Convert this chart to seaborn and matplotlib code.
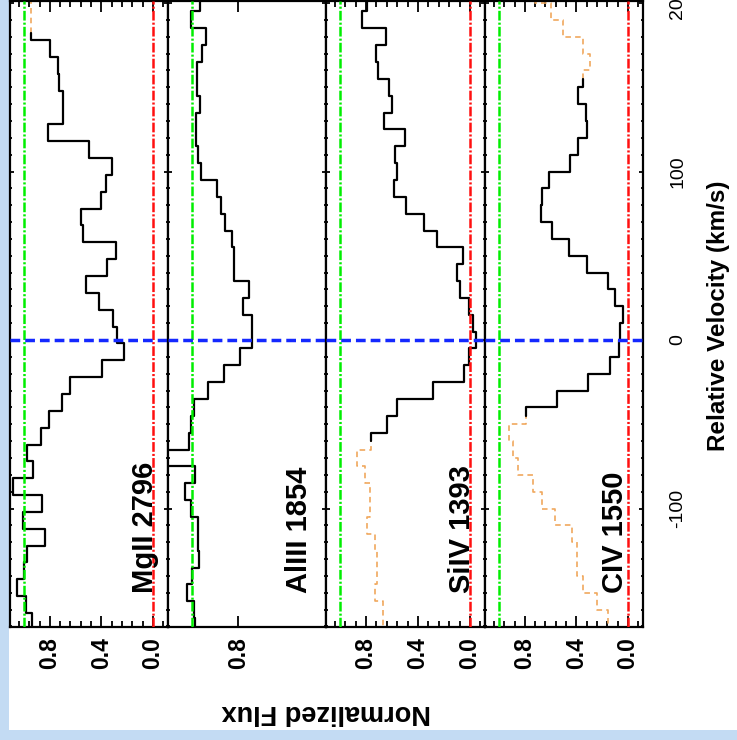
import numpy as np
import matplotlib
matplotlib.use("Agg")
import matplotlib.pyplot as plt
import matplotlib.transforms as mtransforms
from matplotlib.patches import Rectangle
from matplotlib.ticker import MultipleLocator, FixedLocator, NullLocator
import seaborn as sns

sns.set_theme(style="ticks")
plt.rcParams["font.family"] = ["Liberation Sans", "DejaVu Sans"]
plt.rcParams["axes.unicode_minus"] = False
plt.rcParams["lines.scale_dashes"] = False
plt.rcParams["text.color"] = "black"
plt.rcParams["xtick.color"] = "black"
plt.rcParams["ytick.color"] = "black"
plt.rcParams["axes.edgecolor"] = "black"

# ---------------- data (bin centres in km/s, normalized flux) ----------------
mg_vel = [-167, -157, -147, -137, -127, -117, -107, -97, -87, -77, -67, -57, -47,
          -37, -27, -17, -7, 3, 13, 23, 33, 43, 53, 63, 73, 83, 93, 103, 113, 123,
          133, 143, 153, 163, 173, 183, 193, 203]
mg_flux = [0.94, 0.984, 1.052, 1.0, 0.98, 0.837, 1.005, 0.863, 1.083, 0.928, 0.974,
           0.87, 0.81, 0.708, 0.643, 0.398, 0.225, 0.277, 0.307, 0.419, 0.519, 0.354,
           0.287, 0.545, 0.56, 0.40, 0.364, 0.315, 0.493, 0.816, 0.695, 0.695, 0.726,
           0.734, 0.798, 0.95, 0.95, 0.95]

al_vel = [-170, -160, -150, -140, -130, -120, -110, -100, -90, -80, -70, -60, -50,
          -40, -30, -20, -10, 0, 10, 20, 30, 40, 50, 60, 70, 80, 90, 100, 110, 120,
          130, 140, 150, 160, 170, 180, 190, 200]
al_flux = [0.987, 0.994, 1.023, 1.001, 0.97, 0.973, 0.973, 1.006, 1.03, 0.987, 1.25,
           1.012, 1.006, 0.994, 0.929, 0.861, 0.791, 0.74, 0.74, 0.78, 0.752, 0.82,
           0.82, 0.828, 0.857, 0.875, 0.89, 0.961, 0.973, 0.983, 0.983, 0.965, 0.98,
           0.98, 0.958, 0.939, 1.006, 0.965]

si_vel = [-170, -160, -150, -140, -130, -120, -110, -100, -90, -80, -70, -60, -50,
          -40, -30, -20, -10, 0, 10, 20, 30, 40, 50, 60, 70, 80, 90, 100, 110, 120,
          130, 140, 150, 160, 170, 180, 190, 200]
si_flux = [0.667, 0.667, 0.731, 0.718, 0.718, 0.731, 0.795, 0.769, 0.769, 0.808, 0.867,
           0.762, 0.641, 0.564, 0.282, 0.046, 0.008, -0.044, -0.026, 0.005, 0.077,
           0.10, 0.051, 0.251, 0.351, 0.492, 0.585, 0.564, 0.577, 0.50, 0.659, 0.603,
           0.623, 0.705, 0.723, 0.649, 0.833, 0.795]

c4_vel = [-175, -165, -155, -145, -135, -125, -115, -105, -95, -85, -75, -65, -55,
          -45, -35, -25, -15, -5, 5, 15, 25, 35, 45, 55, 65, 75, 85, 95, 105, 115,
          125, 135, 145, 155, 165, 175, 185, 195, 205]
c4_flux = [0.152, 0.152, 0.243, 0.346, 0.398, 0.398, 0.437, 0.566, 0.669, 0.734, 0.85,
           0.889, 0.92, 0.793, 0.553, 0.307, 0.14, 0.067, 0.06, 0.041, 0.10, 0.152,
           0.315, 0.455, 0.592, 0.674, 0.669, 0.612, 0.45, 0.385, 0.315, 0.326, 0.385,
           0.35, 0.295, 0.346, 0.501, 0.597, 0.72]

names = ["MgII 2796", "AlIII 1854", "SiIV 1393", "CIV 1550"]
black_ranges = [(-175, 182), (-180, 210), (-60, 210), (-45, 155)]
flux_ticks = [[0.0, 0.4, 0.8], [0.8], [0.0, 0.4, 0.8], [0.0, 0.4, 0.8]]
vel_ticks_major = 100
BIN_HALF = 5.0

# ---------------- layout / style ----------------
W, H = 737, 740
fig = plt.figure(figsize=(W / 100, H / 100), dpi=100, facecolor="#c3dbf3")
fig.patches.append(Rectangle((8.5 / W, 10 / H), 1, 1, transform=fig.transFigure,
                             facecolor="white", edgecolor="none", zorder=-10))

lefts = [10, 168, 326, 485]
rights = [168, 326, 485, 643]
top_px, bot_px = 1, 627
xlims = [(1.109, -0.116), (1.105, 0.418), (1.109, -0.116), (1.109, -0.116)]
ylim = (-170.3, 201.2)
label_x = [0.905, 0.878, 0.906, 0.873]


def step_path(vel, flux, lo, hi):
    xs, ys = [], []
    for c, f in zip(vel, flux):
        a = max(c - BIN_HALF, lo)
        b = min(c + BIN_HALF, hi)
        if b <= a:
            continue
        ys += [a, b]
        xs += [f, f]
    return xs, ys


series = [(mg_vel, mg_flux), (al_vel, al_flux), (si_vel, si_flux), (c4_vel, c4_flux)]

for i, ((vel, flux), name) in enumerate(zip(series, names)):
    l, r = lefts[i], rights[i]
    ax = fig.add_axes([l / W, 1 - bot_px / H, (r - l) / W, (bot_px - top_px) / H])
    ax.set_zorder(1)
    ax.set_facecolor("white")

    lo, hi = black_ranges[i]
    vmin = min(vel) - BIN_HALF
    vmax = max(vel) + BIN_HALF
    # orange dashed parts outside the fitted range
    for a, b in [(vmin, lo), (hi, vmax)]:
        if b > a:
            xs, ys = step_path(vel, flux, a, b)
            if xs:
                ax.plot(xs, ys, color="#f0a85e", lw=1.2, ls=(0, (4, 3)), zorder=2)
    xs, ys = step_path(vel, flux, lo, hi)
    sns.lineplot(x=xs, y=ys, sort=False, estimator=None, color="black", lw=1.6,
                 ax=ax, zorder=2.5)

    # reference lines
    ax.axvline(1.0, color="#00ee00", lw=1.8, ls=(0, (7, 1.5, 1.5, 1.5)), zorder=3)
    if xlims[i][1] < 0:
        ax.axvline(0.0, color="#ff1010", lw=1.8, ls=(0, (7, 1.5, 1.5, 1.5)), zorder=3)
    ax.axhline(0.0, color="#1428ff", lw=2.5, ls=(0, (7, 3.6)), zorder=3.5)

    ax.set_xlim(*xlims[i])
    ax.set_ylim(*ylim)
    ax.set_xlabel("")
    ax.set_ylabel("")

    ax.xaxis.set_major_locator(FixedLocator(flux_ticks[i]))
    ax.set_xticklabels([f"{t:.1f}" for t in flux_ticks[i]])
    if i == 1:
        ax.xaxis.set_minor_locator(NullLocator())
    else:
        ax.xaxis.set_minor_locator(MultipleLocator(0.08))
    ax.yaxis.set_major_locator(MultipleLocator(vel_ticks_major))
    ax.yaxis.set_minor_locator(MultipleLocator(10))

    ax.tick_params(axis="x", which="both", direction="in", top=True, bottom=True,
                   labelbottom=True, labeltop=False, color="black", width=1.3)
    ax.tick_params(axis="x", which="major", length=8, pad=7, labelsize=16.5,
                   labelrotation=90)
    ax.tick_params(axis="x", which="minor", length=4)
    for t in ax.get_xticklabels():
        t.set_fontweight("bold")
    ax.tick_params(axis="y", which="both", direction="in", left=True, right=True,
                   labelleft=False, labelright=(i == 3), color="black", width=1.3)
    ax.tick_params(axis="y", which="major", length=3, pad=19, labelsize=14,
                   labelrotation=90)
    ax.tick_params(axis="y", which="minor", length=1.6)
    for t in ax.get_yticklabels():
        t.set_verticalalignment("center")

    for s in ax.spines.values():
        s.set_linewidth(1.6)
        s.set_color("black")

    trans = mtransforms.blended_transform_factory(ax.transAxes, ax.transData)
    ax.text(label_x[i], -150, name, transform=trans, rotation=90,
            rotation_mode="anchor", ha="left", va="baseline", fontsize=21,
            fontweight="bold", color="black", zorder=5)

fig.text(718 / W, 1 - 316 / H, "Relative Velocity (km/s)", rotation=90,
         ha="center", va="center", fontsize=17.5, fontweight="bold")
fig.text(326 / W, 1 - 712 / H, "Normalized Flux", rotation=180,
         ha="center", va="center", fontsize=19.5, fontweight="bold")

fig.savefig("out.png", dpi=100, facecolor=fig.get_facecolor())
